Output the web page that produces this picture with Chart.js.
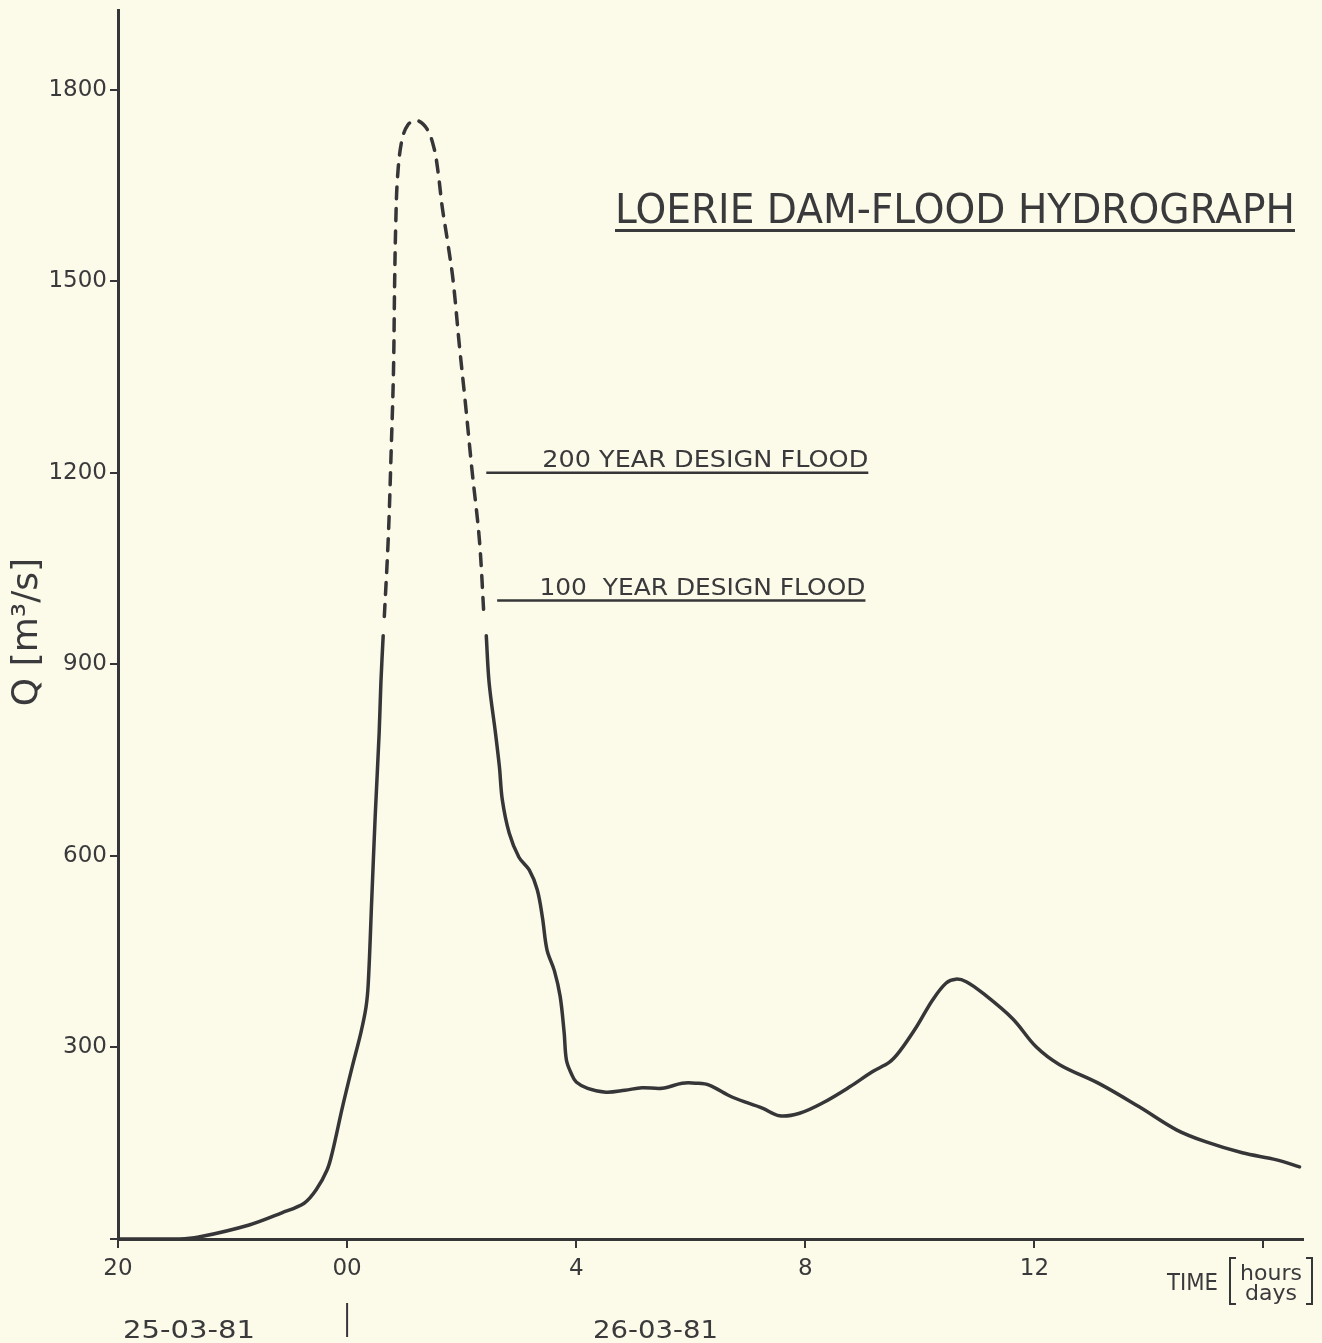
<!DOCTYPE html>
<html>
<head>
<meta charset="utf-8">
<title>Loerie Dam - Flood Hydrograph</title>
<script src="https://cdn.jsdelivr.net/npm/chart.js@4.4.1/dist/chart.umd.min.js"></script>
<style>
  html, body { margin: 0; padding: 0; background: #fcfae8; }
  #wrap { position: relative; width: 1322px; height: 1343px; }
</style>
</head>
<body>
<div id="wrap"><canvas id="hydro"></canvas></div>
<script>
// hours after 20:00 on 25-03-81, flow in m3/s
const riseHours = [0, 1.07, 1.41, 2.29, 2.86, 3.25, 3.46, 3.65, 3.74, 3.92, 4.09, 4.24, 4.33, 4.37, 4.43, 4.49, 4.56, 4.59, 4.63];
const riseFlow  = [0, 0, 3, 22, 41, 56, 77, 108, 135, 207, 270, 323, 363, 401, 531, 661, 793, 871, 945];

// estimated part of the peak (drawn dashed)
const peakHours = [4.65, 4.72, 4.77, 4.81, 4.83, 4.85, 4.88, 4.95, 5.06, 5.22, 5.40, 5.52, 5.59, 5.66, 5.75, 5.85, 5.96, 6.06, 6.18, 6.31, 6.39];
const peakFlow  = [975, 1100, 1236, 1360, 1498, 1592, 1662, 1718, 1745, 1752, 1738, 1708, 1670, 1617, 1565, 1502, 1400, 1314, 1205, 1095, 975];

const fallHours = [6.43, 6.48, 6.59, 6.66, 6.71, 6.83, 7.00, 7.18, 7.32, 7.41, 7.49, 7.62, 7.72, 7.79, 7.83, 7.92, 8.00, 8.20, 8.52, 8.85,
                   9.15, 9.50, 9.85, 10.10, 10.32, 10.73, 11.25, 11.55, 11.90, 12.30, 12.77, 13.17, 13.47, 13.64, 13.94, 14.22, 14.46, 14.63,
                   14.81, 15.10, 15.62, 16.03, 16.44, 17.14, 17.83, 18.48, 19.00, 19.63, 20.23, 20.63];
const fallFlow  = [945, 871, 793, 739, 688, 636, 598, 578, 547, 504, 453, 420, 380, 323, 280, 258, 246, 236, 230, 233,
                   237, 236, 244, 244, 241, 222, 205, 193, 197, 213, 238, 262, 277, 293, 332, 374, 401, 407,
                   403, 385, 345, 301, 273, 243, 207, 171, 152, 135, 124, 113];

const floodLevels = [1200, 1000];
const floodFrom   = [6.43, 6.62];
const floodTo     = [13.10, 13.05];
const floodLabels = ['200 YEAR DESIGN FLOOD', '100  YEAR DESIGN FLOOD'];

const xTickLabels = ['20', '00', '4', '8', '12', ''];
const dayLabels   = ['25-03-81', '26-03-81'];

const INK = '#363638';
const TXT = '#3a3a3c';
const BG = '#fcfae8';
const FONT = '"DejaVu Sans", "Liberation Sans", sans-serif';

const pts = (xs, ys) => xs.map((x, i) => ({ x, y: ys[i] }));

function fitText(ctx, text, x0, x1, baseline, size) {
  ctx.font = size + 'px ' + FONT;
  const w = ctx.measureText(text).width;
  ctx.save();
  ctx.translate(x0, baseline);
  ctx.scale((x1 - x0) / w, 1);
  ctx.textAlign = 'left';
  ctx.textBaseline = 'alphabetic';
  ctx.fillText(text, 0, 0);
  ctx.restore();
}

const paper = {
  id: 'paper',
  beforeDraw(chart) {
    const c = chart.ctx;
    c.save();
    c.fillStyle = BG;
    c.fillRect(0, 0, chart.width, chart.height);
    c.restore();
  },
  afterDraw(chart) {
    const c = chart.ctx;
    const xs = chart.scales.x, ys = chart.scales.y;
    c.save();
    c.fillStyle = TXT;
    c.strokeStyle = INK;

    // title + underline
    fitText(c, 'LOERIE DAM-FLOOD HYDROGRAPH', 615, 1295, 223, 41);
    c.fillRect(615, 229, 680, 3);

    // design flood labels sit on their lines
    floodLabels.forEach((lab, i) => {
      const r = xs.getPixelForValue(floodTo[i]);
      const y = ys.getPixelForValue(floodLevels[i]);
      fitText(c, lab, r - 326, r, y - 6, 23);
    });

    // y axis title
    c.save();
    c.translate(37, 632);
    c.rotate(-Math.PI / 2);
    c.font = '36px ' + FONT;
    c.textAlign = 'center';
    c.textBaseline = 'alphabetic';
    c.fillText('Q [m³/s]', 0, 0);
    c.restore();

    // day labels and the midnight divider
    fitText(c, dayLabels[0], 123, 255, 1338, 25);
    fitText(c, dayLabels[1], 593, 718, 1338, 25);
    const mid = xs.getPixelForValue(4);
    c.lineWidth = 2;
    c.beginPath();
    c.moveTo(mid, 1303);
    c.lineTo(mid, 1337);
    c.stroke();

    // TIME [hours / days]
    fitText(c, 'TIME', 1167, 1218, 1290, 23);
    c.font = '22px ' + FONT;
    c.textAlign = 'center';
    c.fillText('hours', 1271, 1280);
    c.fillText('days', 1271, 1300);
    c.lineWidth = 2;
    c.beginPath();
    c.moveTo(1236, 1258); c.lineTo(1230, 1258); c.lineTo(1230, 1304); c.lineTo(1236, 1304);
    c.moveTo(1306, 1258); c.lineTo(1312, 1258); c.lineTo(1312, 1304); c.lineTo(1306, 1304);
    c.stroke();
    c.restore();
  }
};

const curve = {
  borderColor: INK,
  borderWidth: 3.5,
  pointRadius: 0,
  tension: 0.35,
  borderCapStyle: 'round',
  borderJoinStyle: 'round',
  fill: false
};

const datasets = [
  Object.assign({ label: 'rise', data: pts(riseHours, riseFlow) }, curve),
  Object.assign({ label: 'peak', data: pts(peakHours, peakFlow), borderDash: [12, 10], borderWidth: 4 }, curve),
  Object.assign({ label: 'fall', data: pts(fallHours, fallFlow) }, curve),
];
floodLevels.forEach((q, i) => {
  datasets.push({
    label: floodLabels[i],
    data: [{ x: floodFrom[i], y: q }, { x: floodTo[i], y: q }],
    borderColor: INK, borderWidth: 2.5, pointRadius: 0, tension: 0
  });
});

new Chart(document.getElementById('hydro'), {
  type: 'line',
  data: { datasets },
  plugins: [paper],
  options: {
    responsive: true,
    maintainAspectRatio: false,
    animation: false,
    events: [],
    layout: { padding: { top: 10, right: 19, left: 0, bottom: 0 } },
    plugins: { legend: { display: false }, tooltip: { enabled: false } },
    scales: {
      x: {
        type: 'linear', min: 0, max: 20.69,
        afterFit: s => { s.height = 104; s.paddingLeft = 0; s.paddingRight = 0; },
        ticks: {
          stepSize: 4, includeBounds: false, padding: 7,
          color: TXT, font: { family: FONT, size: 23 },
          maxRotation: 0,
          callback: v => xTickLabels[Math.round(v / 4)] ?? ''
        },
        grid: { drawOnChartArea: false, drawTicks: true, tickLength: 9, color: INK, lineWidth: 2 },
        border: { color: INK, width: 3 }
      },
      y: {
        type: 'linear', min: 0, max: 1925,
        afterFit: s => { s.width = 118; s.paddingTop = 0; s.paddingBottom = 0; },
        ticks: {
          stepSize: 300, includeBounds: false, padding: 3,
          color: TXT, font: { family: FONT, size: 23 },
          callback: v => (v === 0 ? '' : String(v))
        },
        grid: { drawOnChartArea: false, drawTicks: true, tickLength: 8, color: INK, lineWidth: 2 },
        border: { color: INK, width: 3 }
      }
    }
  }
});
</script>
</body>
</html>
